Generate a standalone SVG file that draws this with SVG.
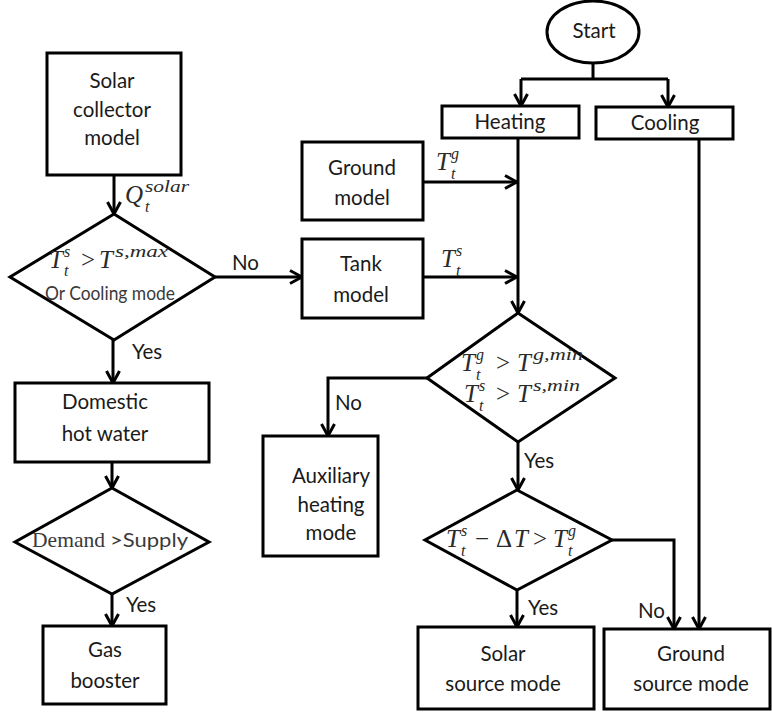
<svg xmlns="http://www.w3.org/2000/svg" width="772" height="713" viewBox="0 0 772 713">
<defs>
<style>
.b{fill:#fff;stroke:#000;stroke-width:3}
.c{fill:none;stroke:#000;stroke-width:3}
.t{font-family:Lato,"Liberation Sans",sans-serif;font-size:20.5px;fill:#1a1a1a;text-anchor:middle}
.l{font-family:Lato,"Liberation Sans",sans-serif;font-size:20.5px;fill:#1a1a1a}
.g{font-family:Lato,"Liberation Sans",sans-serif;font-size:20px;fill:#3a3a3a}
.m{font-family:"Liberation Serif",serif;font-style:italic;font-size:25px;fill:#2a2a2a}
.s{font-size:16px}
.o{font-style:normal}
.d{font-family:"Liberation Serif",serif;font-size:22px;fill:#3a3a3a}
</style>
<marker id="a" viewBox="0 0 16 16" refX="14" refY="8" markerWidth="16" markerHeight="16" markerUnits="userSpaceOnUse" orient="auto"><path d="M2,1.5 L14,8 L2,14.5" fill="none" stroke="#000" stroke-width="3"/></marker>
</defs>
<rect width="772" height="713" fill="#fff"/>
<g id="connectors" class="c">
<path d="M593,63 V79"/>
<path d="M521,79 H668"/>
<path d="M521,79 V106" marker-end="url(#a)"/>
<path d="M668,79 V107" marker-end="url(#a)"/>
<path d="M518,138 V313" marker-end="url(#a)"/>
<path d="M423,182 H517" marker-end="url(#a)"/>
<path d="M423,277 H517" marker-end="url(#a)"/>
<path d="M699,139 V629" marker-end="url(#a)"/>
<path d="M114,175 V214" marker-end="url(#a)"/>
<path d="M215,277 H302" marker-end="url(#a)"/>
<path d="M113,340 V383" marker-end="url(#a)"/>
<path d="M112,462 V488" marker-end="url(#a)"/>
<path d="M112,594 V626" marker-end="url(#a)"/>
<path d="M427,378 H328 V436" marker-end="url(#a)"/>
<path d="M518,442 V490" marker-end="url(#a)"/>
<path d="M517,590 V627" marker-end="url(#a)"/>
<path d="M612,540 H674 V629" marker-end="url(#a)"/>
</g>
<g id="labels">
<text class="l" x="232" y="270">No</text>
<text class="l" x="132" y="359">Yes</text>
<text class="l" x="126" y="612">Yes</text>
<text class="l" x="335" y="410">No</text>
<text class="l" x="524" y="468">Yes</text>
<text class="l" x="528" y="615">Yes</text>
<text class="l" x="638" y="618">No</text>
<text class="m"><tspan x="125" y="203">Q</tspan><tspan class="s" x="145" y="192" textLength="44" lengthAdjust="spacingAndGlyphs">solar</tspan><tspan class="s" x="145" y="212">t</tspan></text>
<text class="m"><tspan x="436" y="170">T</tspan><tspan class="s" x="451" y="159">g</tspan><tspan class="s" x="451" y="179">t</tspan></text>
<text class="m"><tspan x="441" y="267">T</tspan><tspan class="s" x="456" y="256">s</tspan><tspan class="s" x="456" y="276">t</tspan></text>
</g>
<g id="start"><ellipse class="b" cx="593" cy="32" rx="46" ry="31"/><text class="t" x="594" y="38">Start</text></g>
<g id="heating"><rect class="b" x="442" y="106" width="137" height="32"/><text class="t" x="510" y="129">Heating</text></g>
<g id="cooling"><rect class="b" x="596" y="107" width="137" height="32"/><text class="t" x="665" y="130">Cooling</text></g>
<g id="ground-model"><rect class="b" x="302" y="142" width="121" height="78"/><text class="t" x="362" y="175">Ground</text><text class="t" x="362" y="205">model</text></g>
<g id="tank-model"><rect class="b" x="302" y="239" width="121" height="79"/><text class="t" x="361" y="271">Tank</text><text class="t" x="361" y="302">model</text></g>
<g id="solar-collector"><rect class="b" x="47" y="53" width="134" height="122"/><text class="t" x="112" y="88">Solar</text><text class="t" x="112" y="117">collector</text><text class="t" x="112" y="145">model</text></g>
<g id="decision-max"><polygon class="b" points="114,214 215,277 114,340 10,277"/>
<text class="m"><tspan x="49" y="268">T</tspan><tspan class="s" x="64" y="257">s</tspan><tspan class="s" x="64" y="276">t</tspan><tspan class="o" x="81" y="268">&gt;</tspan><tspan x="99" y="268">T</tspan><tspan class="s" x="115" y="257" textLength="53" lengthAdjust="spacingAndGlyphs">s,max</tspan></text>
<text class="g" x="45" y="300" textLength="130" lengthAdjust="spacingAndGlyphs">Or Cooling mode</text></g>
<g id="domestic"><rect class="b" x="15" y="383" width="194" height="79"/><text class="t" x="105" y="409">Domestic</text><text class="t" x="105" y="441">hot water</text></g>
<g id="decision-demand"><polygon class="b" points="112,488 209,542 112,594 15,542"/>
<text class="d" x="32" y="547" textLength="73" lengthAdjust="spacingAndGlyphs">Demand</text><text class="g" x="110" y="547" textLength="78" lengthAdjust="spacingAndGlyphs">&gt;Supply</text></g>
<g id="gas-booster"><rect class="b" x="43" y="626" width="123" height="78"/><text class="t" x="105" y="657">Gas</text><text class="t" x="105" y="688">booster</text></g>
<g id="decision-min"><polygon class="b" points="518,313 615,378 518,442 427,378"/>
<text class="m"><tspan x="461" y="371">T</tspan><tspan class="s" x="476" y="360">g</tspan><tspan class="s" x="476" y="380">t</tspan><tspan class="o" x="496" y="371">&gt;</tspan><tspan x="517" y="371">T</tspan><tspan class="s" x="533" y="360" textLength="50" lengthAdjust="spacingAndGlyphs">g,min</tspan></text>
<text class="m"><tspan x="464" y="402">T</tspan><tspan class="s" x="479" y="391">s</tspan><tspan class="s" x="479" y="411">t</tspan><tspan class="o" x="496" y="402">&gt;</tspan><tspan x="517" y="402">T</tspan><tspan class="s" x="533" y="391" textLength="47" lengthAdjust="spacingAndGlyphs">s,min</tspan></text></g>
<g id="auxiliary"><rect class="b" x="263" y="436" width="115" height="120"/><text class="t" x="331" y="483">Auxiliary</text><text class="t" x="331" y="512">heating</text><text class="t" x="331" y="540">mode</text></g>
<g id="decision-delta"><polygon class="b" points="517,490 612,540 517,590 425,540"/>
<text class="m"><tspan x="446" y="547">T</tspan><tspan class="s" x="461" y="536">s</tspan><tspan class="s" x="461" y="556">t</tspan><tspan class="o" x="475" y="547">−</tspan><tspan class="o" x="496" y="547">Δ</tspan><tspan x="514" y="547">T</tspan><tspan class="o" x="533" y="547">&gt;</tspan><tspan x="553" y="547">T</tspan><tspan class="s" x="568" y="536">g</tspan><tspan class="s" x="568" y="556">t</tspan></text></g>
<g id="solar-source"><rect class="b" x="418" y="627" width="176" height="82"/><text class="t" x="503" y="661">Solar</text><text class="t" x="503" y="691">source mode</text></g>
<g id="ground-source"><rect class="b" x="604" y="629" width="166" height="80"/><text class="t" x="691" y="661">Ground</text><text class="t" x="691" y="691">source mode</text></g>
</svg>
